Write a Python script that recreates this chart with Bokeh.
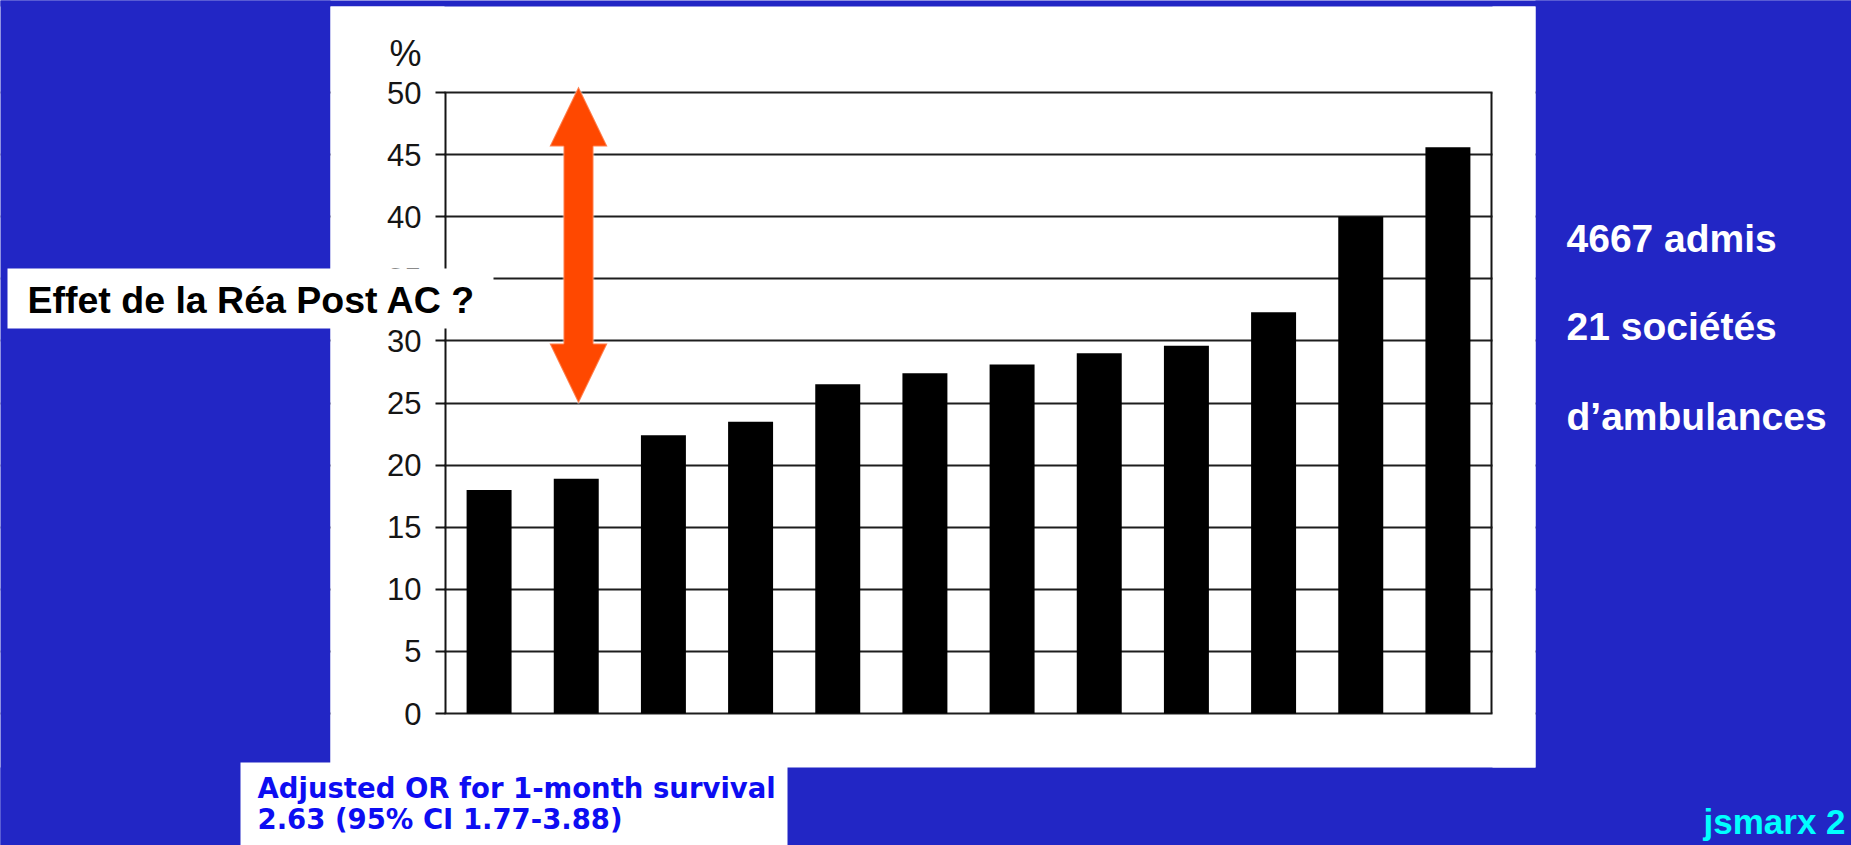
from bokeh.plotting import figure
from bokeh.models import Range1d, BoxAnnotation, PolyAnnotation, Label, FixedTicker, LinearAxis
from bokeh.embed import file_html
from bokeh.resources import INLINE

# ---------------- data ----------------
companies = list(range(12))  # ambulance companies, sorted by survival
survival_pct = [18.0, 18.9, 22.4, 23.5, 26.5, 27.4, 28.1, 29.0, 29.6, 32.3, 40.0, 45.6]
y_ticks = [0, 5, 10, 15, 20, 25, 30, 35, 40, 45, 50]
y_unit = "%"
question = "Effet de la Réa Post AC ?"
side_notes = ["4667 admis", "21 sociétés", "d’ambulances"]
or_lines = ["Adjusted OR for 1-month survival", "2.63 (95% CI 1.77-3.88)"]
signature = "jsmarx 2"

# ---------------- layout ----------------
W, H = 1851, 845
FL, FR, FT, FB = 445, 1491, 92, 713          # plot area in pixels
XMIN, XMAX, YMIN, YMAX = -0.5, 11.5, 0, 50   # plot area in data units
BLUE = "#2226C5"
INK = "#151515"

KX = (XMAX - XMIN) / (FR - FL)
KY = (YMAX - YMIN) / (FB - FT)


def dx(px):
    return XMIN + (px - FL) * KX


def dy(py):
    return YMIN + (FB - py) * KY


# the frame covers the whole canvas; the chart's axes are pinned with fixed_location
p = figure(width=W, height=H, x_range=Range1d(dx(0), dx(W)), y_range=Range1d(dy(H), dy(0)),
           output_backend="svg", toolbar_location=None, title=None, min_border=0,
           border_fill_color=BLUE, background_fill_color="white")
p.outline_line_color = None

ticker = FixedTicker(ticks=y_ticks)
yax = p.yaxis[0]
yax.ticker = ticker
yax.fixed_location = XMIN
yax.bounds = (YMIN, YMAX)
yax.major_label_text_font = "Liberation Sans"
yax.major_label_text_font_size = "31px"
yax.major_label_text_color = INK
yax.major_tick_out = 10
yax.major_tick_in = 0
yax.major_tick_line_width = 2
yax.major_tick_line_color = INK
yax.minor_tick_line_color = None
yax.axis_line_width = 2
yax.axis_line_color = INK
yax.major_label_standoff = 14

p.xaxis.visible = False
p.xgrid.visible = False

right_line = LinearAxis(ticker=FixedTicker(ticks=[]), fixed_location=XMAX, bounds=(YMIN, YMAX),
                        major_tick_line_color=None, minor_tick_line_color=None,
                        major_label_text_font_size="0px", axis_line_width=2, axis_line_color=INK)
p.add_layout(right_line, "right")

p.ygrid.ticker = ticker
p.ygrid.grid_line_color = "#1e1e1e"
p.ygrid.grid_line_width = 2

# masks (underlay, drawn after the grid): blue slide around the white chart panel,
# white panel margins so grid lines stop at the plot area
for l, r, t, b, c in [(-60, 330, -60, 910, BLUE), (1535, 1910, -60, 910, BLUE),
                      (-60, 1910, -60, 6, BLUE), (-60, 1910, 767, 910, BLUE),
                      (330, FL - 1, 6, 767, "white"), (FR + 1, 1535, 6, 767, "white")]:
    p.add_layout(BoxAnnotation(left=dx(l), right=dx(r), top=dy(t), bottom=dy(b), fill_color=c,
                               fill_alpha=1, line_color=None, level="underlay"))

p.vbar(x=companies, top=survival_pct, width=0.516, fill_color="black", line_color=None)

# orange double arrow
ac = 578
arrow_px = [(ac, 86), (ac - 29, 146), (ac - 15, 146), (ac - 15, 343), (ac - 29, 343), (ac, 403),
            (ac + 29, 343), (ac + 15, 343), (ac + 15, 146), (ac + 29, 146)]
p.add_layout(PolyAnnotation(xs=[dx(a) for a, _ in arrow_px], ys=[dy(b) for _, b in arrow_px],
                            fill_color="#FF4800", fill_alpha=1, line_color="white", line_width=2,
                            level="annotation"))


def label(x, y, text, font, size, color, bold=True, align="left"):
    p.add_layout(Label(x=dx(x), y=dy(y), text=text, text_font=font,
                       text_font_style="bold" if bold else "normal", text_font_size=size,
                       text_color=color, text_baseline="middle", text_align=align))


# question box
p.add_layout(BoxAnnotation(left=dx(7), right=dx(493), top=dy(268), bottom=dy(328), fill_color="white",
                           fill_alpha=1, line_color=None, level="annotation"))
label(27, 299, question, "Liberation Sans", "37.5px", "black")

# unit label
label(421, 53, y_unit, "Liberation Sans", "36px", INK, bold=False, align="right")

# side notes
for txt, cy in zip(side_notes, [238, 326, 416]):
    label(1566, cy, txt, "Liberation Sans", "39px", "white")

# OR box
p.add_layout(BoxAnnotation(left=dx(240), right=dx(787), top=dy(762), bottom=dy(910), fill_color="white",
                           fill_alpha=1, line_color=None, level="annotation"))
for txt, cy in zip(or_lines, [787, 818]):
    label(257, cy, txt, "DejaVu Sans", "27.5px", "#0D0DF2")

# signature
label(1703, 821, signature, "Liberation Sans", "35px", "#00FFFF")

open("out.html", "w").write(file_html(p, INLINE))
